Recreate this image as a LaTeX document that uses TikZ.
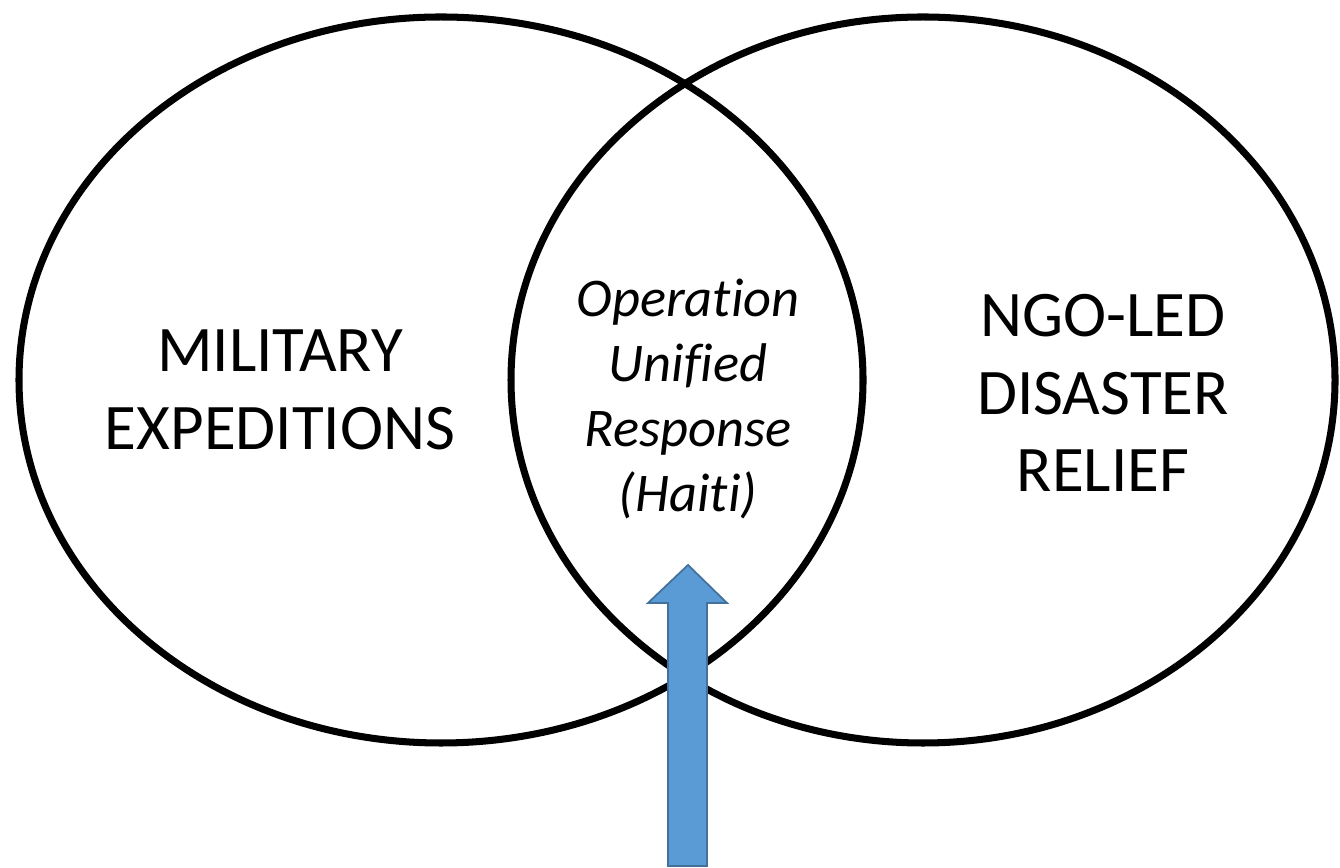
\documentclass[tikz,border=0pt]{standalone}
\usepackage{fontspec}
\setmainfont{Carlito}[Ligatures=NoCommon]
\usetikzlibrary{shapes.geometric}

\tikzset{
  setring/.style={ellipse,draw,line width=4pt,inner sep=0pt},
  bigtext/.style={align=center,font=\fontsize{37}{44}\selectfont},
  midtext/.style={align=center,font=\fontsize{31}{37}\selectfont\itshape},
}

\begin{document}
\begin{tikzpicture}[scale=1]
\useasboundingbox (0,0) rectangle (26.8,17.36);
\node[setring,minimum width=16.88cm,minimum height=14.52cm] (military) at (8.82,9.76) {};
\node[setring,minimum width=16.48cm,minimum height=14.52cm] (ngo) at (18.46,9.76) {};
\node[bigtext] (miltext) at (5.6,9.56) {MILITARY\\EXPEDITIONS};
\node[bigtext] (ngotext) at (22.06,9.5) {NGO-LED\\DISASTER\\RELIEF};
\node[midtext] (haiti) at (13.76,9.38) {Operation\\Unified\\Response\\(Haiti)};
% block arrow pointing up into the overlap
\coordinate (tip) at (13.76,6.06);
\draw[fill={rgb,255:red,91;green,155;blue,213},draw={rgb,255:red,65;green,113;blue,156},line width=1pt]
  (13.36,0.04) -- (13.36,5.30) -- (12.96,5.30) -- (tip) -- (14.54,5.30) -- (14.14,5.30) -- (14.14,0.04) -- cycle;
\end{tikzpicture}
\end{document}
